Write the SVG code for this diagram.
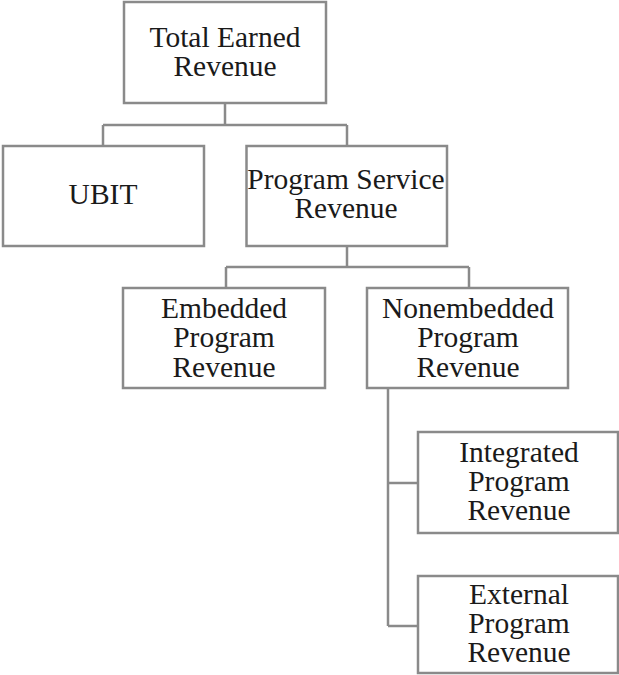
<svg xmlns="http://www.w3.org/2000/svg" width="619" height="675" viewBox="0 0 619 675">
<style>
.box{fill:#fff;stroke:#8a8a8a;stroke-width:2.5}
.ln{fill:none;stroke:#8a8a8a;stroke-width:2.5}
text{font-family:'Liberation Serif','Times New Roman','DejaVu Serif',serif;font-size:29.5px;fill:#1a1a1a;text-anchor:middle}
</style>
<rect width="619" height="675" fill="#fff"/>
<g id="connectors">
<path class="ln" d="M225,103V125M103,125H347M103,125V146M347,125V146"/>
<path class="ln" d="M347,246V267M226,267H469M226,267V288M469,267V288"/>
<path class="ln" d="M388,388V626M388,483H418M388,626H418"/>
</g>
<g id="total"><rect class="box" x="124" y="2" width="202" height="101"/><text x="225" y="47">Total Earned</text><text x="225" y="76">Revenue</text></g>
<g id="ubit"><rect class="box" x="3" y="146" width="201" height="100"/><text x="103" y="204">UBIT</text></g>
<g id="psr"><rect class="box" x="246.5" y="146" width="200.5" height="100"/><text x="346" y="189">Program Service</text><text x="346" y="218">Revenue</text></g>
<g id="embedded"><rect class="box" x="123" y="288" width="202" height="100"/><text x="224" y="318">Embedded</text><text x="224" y="347">Program</text><text x="224" y="377">Revenue</text></g>
<g id="nonembedded"><rect class="box" x="367" y="288" width="201" height="100"/><text x="468" y="318">Nonembedded</text><text x="468" y="347">Program</text><text x="468" y="377">Revenue</text></g>
<g id="integrated"><rect class="box" x="418" y="432" width="200" height="101"/><text x="519" y="462">Integrated</text><text x="519" y="491">Program</text><text x="519" y="520">Revenue</text></g>
<g id="external"><rect class="box" x="418" y="576" width="200" height="97"/><text x="519" y="604">External</text><text x="519" y="633">Program</text><text x="519" y="662">Revenue</text></g>
</svg>
